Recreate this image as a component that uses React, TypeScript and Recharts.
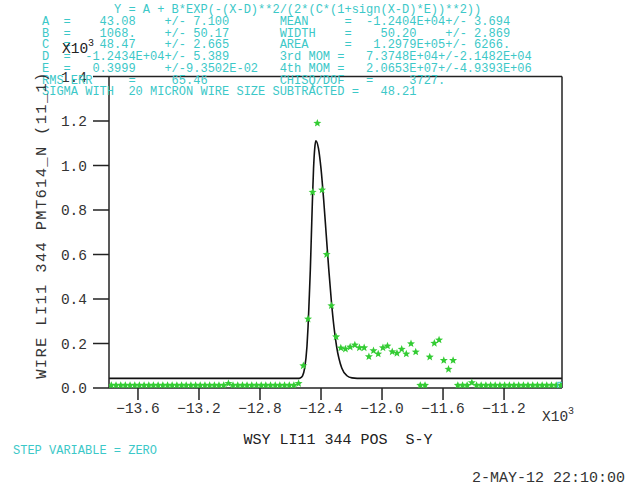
import React from 'react'
import {
  ComposedChart,
  Line,
  Scatter,
  XAxis,
  YAxis,
} from 'recharts'

// wire scan positions (x 10^3 um) and measured signal (x 10^3)
const scanPos = [
  -13775, -13744, -13713, -13683, -13652, -13621, -13591, -13560, -13529, -13499,
  -13468, -13437, -13406, -13376, -13345, -13314, -13284, -13253, -13222, -13192,
  -13161, -13130, -13099, -13069, -13038, -13007, -12977, -12946, -12915, -12885,
  -12854, -12823, -12792, -12762, -12731, -12700, -12670, -12639, -12608, -12578,
  -12547, -12516, -12485, -12455, -12424, -12393, -12363, -12332, -12301, -12270,
  -12240, -12209, -12178, -12148, -12117, -12086, -12056, -12025, -11994, -11964,
  -11933, -11902, -11871, -11841, -11810, -11779, -11749, -11718, -11687, -11657,
  -11626, -11595, -11564, -11534, -11503, -11472, -11442, -11411, -11380, -11350,
  -11319, -11288, -11258, -11227, -11196, -11165, -11135, -11104, -11073, -11043,
  -11012, -10981, -10950, -10920, -10889, -10858, -10828,
]
const signal = [
  0.012, 0.012, 0.012, 0.012, 0.012, 0.012, 0.012, 0.012, 0.012, 0.012,
  0.012, 0.012, 0.012, 0.012, 0.012, 0.012, 0.012, 0.012, 0.012, 0.012,
  0.012, 0.012, 0.012, 0.012, 0.012, 0.02, 0.012, 0.012, 0.012, 0.012,
  0.012, 0.012, 0.012, 0.012, 0.012, 0.012, 0.012, 0.012, 0.012, 0.012,
  0.02, 0.10, 0.31, 0.88, 1.19, 0.89, 0.60, 0.37, 0.23, 0.18,
  0.175, 0.184, 0.193, 0.181, 0.181, 0.141, 0.168, 0.153, 0.181, 0.189,
  0.163, 0.156, 0.174, 0.153, 0.199, 0.162, 0.012, 0.012, 0.139, 0.201,
  0.216, 0.124, 0.084, 0.124, 0.012, 0.012, 0.012, 0.024, 0.012, 0.012,
  0.012, 0.012, 0.012, 0.012, 0.012, 0.012, 0.012, 0.012, 0.012, 0.012,
  0.012, 0.012, 0.012, 0.012, 0.012, 0.012, 0.012,
]

// fitted curve
const fitPos = [
  -13790, -12550, -12536, -12521, -12507, -12492, -12485, -12478, -12470, -12463,
  -12456, -12449, -12441, -12434, -12417, -12400, -12383, -12366, -12349, -12332,
  -12315, -12298, -12264, -12230, -12197, -12163, -10820,
]
const fitVal = [
  0.0431, 0.0434, 0.0454, 0.055, 0.09, 0.1876, 0.2741, 0.3899, 0.532, 0.6909,
  0.8492, 0.9856, 1.0782, 1.1111, 1.0782, 0.9856, 0.8492, 0.6909, 0.532, 0.3899,
  0.2741, 0.1876, 0.09, 0.055, 0.0454, 0.0434, 0.0431,
]

const lastPoint = [{ x: -10828, y: 0.012 }]

const xTicks = [-13600, -13200, -12800, -12400, -12000, -11600, -11200]
const xTickLabels = ['−13.6', '−13.2', '−12.8', '−12.4', '−12.0', '−11.6', '−11.2']
const yTicks = [0, 0.2, 0.4, 0.6, 0.8, 1.0, 1.2, 1.4]
const yTickLabels = ['0.0', '0.2', '0.4', '0.6', '0.8', '1.0', '1.2', '1.4']

const fitLines = [
  '          Y = A + B*EXP(-(X-D)**2/(2*(C*(1+sign(X-D)*E))**2))',
  'A  =    43.08    +/- 7.100       MEAN     =  -1.2404E+04+/- 3.694',
  'B  =    1068.    +/- 50.17       WIDTH    =    50.20    +/- 2.869',
  'C  =    48.47    +/- 2.665       AREA     =   1.2979E+05+/- 6266.',
  'D  =  -1.2434E+04+/- 5.389       3rd MOM =   7.3748E+04+/-2.1482E+04',
  'E  =   0.3999    +/-9.3502E-02   4th MOM =   2.0653E+07+/-4.9393E+06',
  'RMS ERR     =     65.46          CHISQ/DOF   =     3727.',
  'SIGMA WITH  20 MICRON WIRE SIZE SUBTRACTED =   48.21',
]

const mono = '"Liberation Mono", "DejaVu Sans Mono", monospace'
const cyan = '#3cc8c8'
const ink = '#333'

const scanData = scanPos.map((x, i) => ({ x, y: signal[i] }))
const fitData = fitPos.map((x, i) => ({ x, y: fitVal[i] }))

function Star(props: any) {
  const { cx, cy } = props
  if (cx == null || cy == null) return null
  const pts: string[] = []
  for (let i = 0; i < 10; i++) {
    const r = i % 2 === 0 ? 4.2 : 1.8
    const a = -Math.PI / 2 + (i * Math.PI) / 5
    pts.push(`${cx + r * Math.cos(a)},${cy + r * Math.sin(a)}`)
  }
  return <polygon points={pts.join(' ')} fill='#33cc33' />
}

function Box(props: any) {
  const { cx, cy } = props
  if (cx == null || cy == null) return null
  return (
    <rect x={cx - 3} y={cy - 3} width={6} height={6} fill='none' stroke={cyan} strokeWidth={1} />
  )
}

const frame = { stroke: '#222', strokeWidth: 1.5 }

export default function App() {
  return (
    <div
      style={{
        position: 'absolute',
        left: 0,
        top: 0,
        width: 626,
        height: 487,
        background: '#fff',
        fontFamily: mono,
      }}
    >
      <ComposedChart
        width={626}
        height={487}
        margin={{ top: 56.5, right: 44, bottom: 69, left: 49 }}
      >
        <XAxis
          xAxisId='b'
          dataKey='x'
          type='number'
          domain={[-13790, -10820]}
          allowDataOverflow
          ticks={xTicks}
          tickFormatter={(v: number) => xTickLabels[xTicks.indexOf(v)] ?? ''}
          height={30}
          tickSize={12}
          tickMargin={3}
          axisLine={frame}
          tickLine={frame}
          tick={{ fill: ink, fontSize: 14.5, fontFamily: mono }}
        />
        <XAxis
          xAxisId='t'
          orientation='top'
          dataKey='x'
          type='number'
          domain={[-13790, -10820]}
          allowDataOverflow
          ticks={xTicks}
          height={20}
          tickSize={14}
          axisLine={frame}
          tickLine={frame}
          tick={false}
        />
        <YAxis
          yAxisId='l'
          dataKey='y'
          type='number'
          domain={[0, 1.4]}
          allowDataOverflow
          ticks={yTicks}
          tickFormatter={(v: number) => yTickLabels[yTicks.indexOf(v)] ?? ''}
          width={60}
          tickSize={16}
          tickMargin={6}
          axisLine={frame}
          tickLine={frame}
          tick={{ fill: ink, fontSize: 14.5, fontFamily: mono }}
        />
        <YAxis
          yAxisId='r'
          orientation='right'
          dataKey='y'
          type='number'
          domain={[0, 1.4]}
          allowDataOverflow
          ticks={yTicks}
          width={20}
          tickSize={16}
          axisLine={frame}
          tickLine={frame}
          tick={false}
        />
        <Line
          xAxisId='b'
          yAxisId='l'
          data={fitData}
          dataKey='y'
          type='monotone'
          stroke='#111'
          strokeWidth={1.6}
          dot={false}
          isAnimationActive={false}
        />
        <Scatter
          xAxisId='b'
          yAxisId='l'
          data={scanData}
          dataKey='y'
          shape={<Star />}
          isAnimationActive={false}
        />
        <Scatter
          xAxisId='b'
          yAxisId='l'
          data={lastPoint}
          dataKey='y'
          shape={<Box />}
          isAnimationActive={false}
        />
      </ComposedChart>

      <div
        style={{
          position: 'absolute',
          left: 42,
          top: 5,
          fontSize: 12,
          lineHeight: '11.75px',
          color: cyan,
          whiteSpace: 'pre',
        }}
      >
        {fitLines.map((l, i) => (
          <div key={i}>{l}</div>
        ))}
      </div>

      <div style={{ position: 'absolute', left: 62, top: 41, fontSize: 14.5, color: '#222', whiteSpace: 'pre' }}>
        X10<sup style={{ fontSize: 10, verticalAlign: 'top', position: 'relative', top: -3 }}>3</sup>
      </div>
      <div style={{ position: 'absolute', left: 542, top: 409, fontSize: 14.5, color: ink, whiteSpace: 'pre' }}>
        X10<sup style={{ fontSize: 10, verticalAlign: 'top', position: 'relative', top: -3 }}>3</sup>
      </div>

      <div
        style={{
          position: 'absolute',
          left: 42,
          top: 224.5,
          fontSize: 15.5,
          letterSpacing: 1.3,
          color: ink,
          whiteSpace: 'pre',
          transform: 'translate(-50%, -50%) rotate(-90deg)',
        }}
      >
        WIRE LI11 344 PMT614_N (11_1)
      </div>

      <div
        style={{
          position: 'absolute',
          left: 338,
          top: 440,
          fontSize: 15,
          color: '#222',
          whiteSpace: 'pre',
          transform: 'translate(-50%, -50%)',
        }}
      >
        WSY LI11 344 POS  S-Y
      </div>

      <div style={{ position: 'absolute', left: 13, top: 444, fontSize: 12, color: cyan, whiteSpace: 'pre' }}>
        STEP VARIABLE = ZERO
      </div>

      <div style={{ position: 'absolute', left: 472, top: 470, fontSize: 15, color: ink, whiteSpace: 'pre' }}>
        2-MAY-12 22:10:00
      </div>
    </div>
  )
}
